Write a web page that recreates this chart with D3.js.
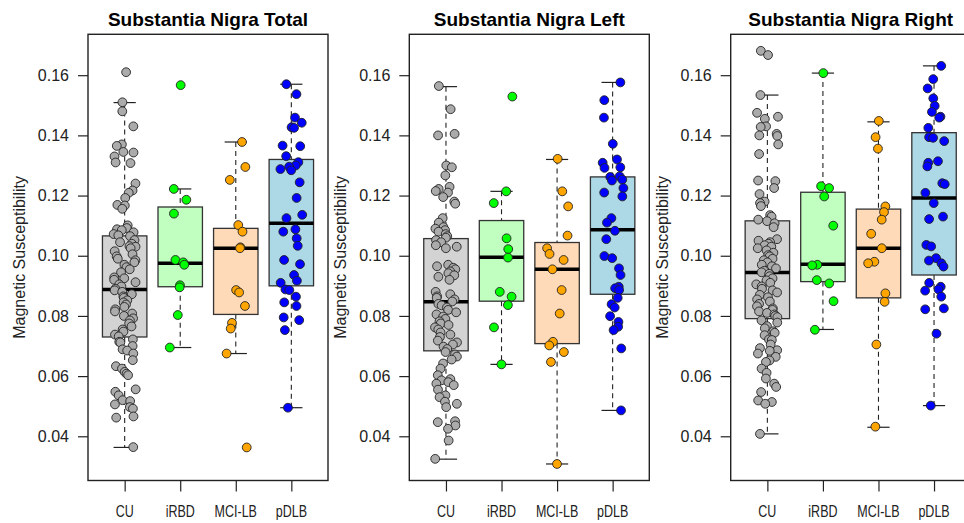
<!DOCTYPE html>
<html>
<head>
<meta charset="utf-8">
<script src="https://cdn.jsdelivr.net/npm/d3@7"></script>
<style>
  body { margin: 0; background: #fff; }
  svg { font-family: "Liberation Sans", Arial, sans-serif; }
</style>
</head>
<body>
<div id="chart"></div>
<script>
// Magnetic susceptibility of the substantia nigra by group, three panels (Total / Left / Right)

const groups = ["CU", "iRBD", "MCI-LB", "pDLB"];
const panelTitles = ["Substantia Nigra Total", "Substantia Nigra Left", "Substantia Nigra Right"];
const yTicks = [0.04, 0.06, 0.08, 0.10, 0.12, 0.14, 0.16];

// box stats per group: [lower whisker, Q1, median, Q3, upper whisker]
const totalStats = [
  [0.0363, 0.0730, 0.0888, 0.1066, 0.1509],
  [0.0695, 0.0897, 0.0975, 0.1162, 0.1222],
  [0.0675, 0.0805, 0.1025, 0.1091, 0.1378],
  [0.0495, 0.0900, 0.1108, 0.1320, 0.1570]
];
const leftStats = [
  [0.0324, 0.0684, 0.0847, 0.1057, 0.1562],
  [0.0639, 0.0849, 0.0995, 0.1117, 0.1214],
  [0.0308, 0.0708, 0.0955, 0.1044, 0.1320],
  [0.0486, 0.0872, 0.1086, 0.1262, 0.1576]
];
const rightStats = [
  [0.0408, 0.0791, 0.0944, 0.1116, 0.1534],
  [0.0755, 0.0914, 0.0972, 0.1211, 0.1607],
  [0.0430, 0.0860, 0.1025, 0.1155, 0.1445],
  [0.0502, 0.0936, 0.1192, 0.1409, 0.1631]
];

// individual subjects
const totalCU = [0.161, 0.151, 0.148, 0.143, 0.137, 0.1365, 0.1345, 0.1343, 0.133, 0.131, 0.1308, 0.124, 0.1217, 0.1209, 0.1192, 0.1169, 0.1167, 0.1156,
  0.1101, 0.1092, 0.1088, 0.1085, 0.1078, 0.1072, 0.1068, 0.1065, 0.1052, 0.1045, 0.1040, 0.1032, 0.1030, 0.1025, 0.1015, 0.1005,
  0.0998, 0.0990, 0.0985, 0.0978, 0.0970, 0.0962, 0.0955, 0.0945,
  0.0928, 0.0925, 0.0920, 0.0912, 0.0905, 0.0898, 0.0890, 0.0885, 0.0880, 0.0872, 0.0865, 0.0860, 0.0852, 0.0845, 0.0838, 0.0830,
  0.0822, 0.0815, 0.0808, 0.0800, 0.0792, 0.0785, 0.0775, 0.0765, 0.0755, 0.0748, 0.0738, 0.0732,
  0.0722, 0.0714, 0.0712, 0.0700, 0.0689, 0.0685, 0.0675, 0.0653, 0.0633, 0.0625, 0.0614, 0.0608, 0.0603, 0.0556, 0.0548, 0.0536,
  0.0520, 0.0517, 0.0506, 0.0497, 0.0492, 0.0466, 0.0462, 0.0364];
const totalIRBD = [0.1567, 0.1222, 0.1186, 0.1140, 0.0986, 0.0978, 0.0970, 0.0902, 0.0895, 0.0803, 0.0695];
const totalMCI = [0.1378, 0.1295, 0.1252, 0.1102, 0.1080, 0.1028, 0.1025, 0.0886, 0.0878, 0.0833, 0.0777, 0.0758, 0.0675, 0.0363];
const totalPDLB = [0.1570, 0.1537, 0.1459, 0.1442, 0.1427, 0.1425, 0.1366, 0.1364, 0.1331, 0.1311, 0.1300, 0.1296, 0.1288, 0.1284,
  0.1244, 0.1192, 0.1136, 0.1125, 0.1088, 0.1080, 0.1058, 0.1033, 0.0986, 0.0972, 0.0936, 0.0917, 0.0910, 0.0888, 0.0886, 0.0864,
  0.0845, 0.0833, 0.0795, 0.0786, 0.0753, 0.0495];

const leftCU = [0.1564, 0.1487, 0.1405, 0.1400, 0.1300, 0.1294, 0.1267, 0.1229, 0.1222, 0.1215, 0.1210, 0.1195, 0.1180, 0.1173, 0.1125, 0.1110,
  0.1095, 0.1090, 0.1085, 0.1080, 0.1072, 0.1065, 0.1060, 0.1052, 0.1045, 0.1035, 0.1030, 0.1025,
  0.0970, 0.0965, 0.0960, 0.0955, 0.0948, 0.0942, 0.0935, 0.0930, 0.0920,
  0.0880, 0.0872, 0.0865, 0.0860, 0.0855, 0.0848, 0.0840, 0.0835, 0.0828, 0.0820, 0.0812, 0.0805, 0.0798, 0.0790, 0.0782, 0.0775,
  0.0770, 0.0762, 0.0755, 0.0745, 0.0738, 0.0730, 0.0718, 0.0712, 0.0705, 0.0698, 0.0690,
  0.0680, 0.0672, 0.0665, 0.0655, 0.0642, 0.0625, 0.0603, 0.0590, 0.0586, 0.0580, 0.0575, 0.0570, 0.0555, 0.0536, 0.0530, 0.0515,
  0.0508, 0.0497, 0.0450, 0.0447, 0.0436, 0.0425, 0.0386, 0.0325];
const leftIRBD = [0.1529, 0.1214, 0.1175, 0.1058, 0.1022, 0.0994, 0.0880, 0.0864, 0.0836, 0.0762, 0.0639];
const leftMCI = [0.1322, 0.1214, 0.1164, 0.1067, 0.1025, 0.1006, 0.0986, 0.0955, 0.0886, 0.0808, 0.0714, 0.0702, 0.0680, 0.0647, 0.0308];
const leftPDLB = [0.1576, 0.1517, 0.1459, 0.1372, 0.1320, 0.1309, 0.1294, 0.1292, 0.1264, 0.1262, 0.1253, 0.1250, 0.1225, 0.1210,
  0.1197, 0.1125, 0.1110, 0.1083, 0.1055, 0.0999, 0.0992, 0.0958, 0.0936, 0.0897, 0.0892, 0.0886, 0.0860, 0.0839, 0.0828, 0.0799,
  0.0780, 0.0764, 0.0753, 0.0692, 0.0486];

const rightCU = [0.1681, 0.1667, 0.1534, 0.1475, 0.1462, 0.1455, 0.1430, 0.1428, 0.1405, 0.1400, 0.1398, 0.1370, 0.1338, 0.1250, 0.1248,
  0.1225, 0.1205, 0.1180, 0.1175, 0.1165, 0.1135, 0.1130, 0.1120, 0.1115, 0.1108, 0.1095,
  0.1055, 0.1050, 0.1045, 0.1040, 0.1035, 0.1030, 0.1025, 0.1018, 0.1010, 0.1002, 0.0998, 0.0990, 0.0985, 0.0978, 0.0970, 0.0965,
  0.0958, 0.0950, 0.0945, 0.0940, 0.0932, 0.0925, 0.0918, 0.0910, 0.0905, 0.0898, 0.0890, 0.0885, 0.0878, 0.0870, 0.0862, 0.0855,
  0.0848, 0.0840, 0.0832, 0.0825, 0.0820, 0.0815, 0.0810, 0.0805, 0.0800, 0.0796,
  0.0785, 0.0778, 0.0766, 0.0759, 0.0749, 0.0744, 0.0736, 0.0722, 0.0720, 0.0705, 0.0693, 0.0686, 0.0684, 0.0675, 0.0664, 0.0652,
  0.0647, 0.0625, 0.0611, 0.0592, 0.0575, 0.0564, 0.0547, 0.0519, 0.0514, 0.0508, 0.0408];
const rightIRBD = [0.1607, 0.1231, 0.1225, 0.1197, 0.1100, 0.0970, 0.0968, 0.0919, 0.0908, 0.0849, 0.0754];
const rightMCI = [0.1448, 0.1394, 0.1356, 0.1164, 0.1145, 0.1120, 0.1073, 0.1025, 0.0980, 0.0975, 0.0875, 0.0847, 0.0705, 0.0432];
const rightPDLB = [0.1631, 0.1587, 0.1556, 0.1523, 0.1498, 0.1478, 0.1462, 0.1459, 0.1425, 0.1394, 0.1392, 0.1381, 0.1314, 0.1309,
  0.1297, 0.1241, 0.1238, 0.1209, 0.1175, 0.1130, 0.1122, 0.1036, 0.1031, 0.0992, 0.0984, 0.0975, 0.0964, 0.0910, 0.0897, 0.0888,
  0.0884, 0.0864, 0.0825, 0.0822, 0.0741, 0.0502];

const panels = [
  { title: panelTitles[0], stats: totalStats, points: [totalCU, totalIRBD, totalMCI, totalPDLB] },
  { title: panelTitles[1], stats: leftStats, points: [leftCU, leftIRBD, leftMCI, leftPDLB] },
  { title: panelTitles[2], stats: rightStats, points: [rightCU, rightIRBD, rightMCI, rightPDLB] }
];

const boxFill = ["#d3d3d3", "#c1ffc1", "#ffdab9", "#add8e6"];
const pointFill = ["#ababab", "#00ff00", "#ffa500", "#0000ff"];

const width = 964, height = 523;
const plotW = 240, plotTop = 34.3, plotBottom = 480.5;
const panelLeft = [88, 409.3, 730.7];

const svg = d3.select("#chart").append("svg")
  .attr("width", width)
  .attr("height", height);

// shared y range, extended 4% like R does
const allVals = panels.flatMap(p => p.points.flat().concat(p.stats.flat()));
const [vmin, vmax] = d3.extent(allVals);
const pad = (vmax - vmin) * 0.04;
const y = d3.scaleLinear().domain([vmin - pad, vmax + pad]).range([plotBottom, plotTop]);

// small seeded generator for the horizontal jitter only
function rng(seed) {
  return function() {
    seed = (seed + 0x6D2B79F5) | 0;
    let t = Math.imul(seed ^ (seed >>> 15), 1 | seed);
    t = (t + Math.imul(t ^ (t >>> 7), 61 | t)) ^ t;
    return ((t ^ (t >>> 14)) >>> 0) / 4294967296;
  };
}

panels.forEach((p, pi) => {
  const g = svg.append("g").attr("transform", `translate(${panelLeft[pi]},0)`);

  const x = d3.scaleLinear().domain([0.34, 4.66]).range([0, plotW]);
  const unit = x(1) - x(0);
  const boxW = 0.8 * unit, capW = 0.4 * unit;

  // title
  g.append("text")
    .attr("x", plotW / 2)
    .attr("y", 26)
    .attr("text-anchor", "middle")
    .style("font-size", "19px")
    .style("font-weight", "bold")
    .text(p.title);

  // y axis
  const yAxis = g.append("g")
    .call(d3.axisLeft(y).tickValues(yTicks).tickFormat(d3.format(".2f")).tickSize(10).tickPadding(9));
  yAxis.select(".domain").remove();
  yAxis.selectAll("line").attr("stroke", "#222").attr("stroke-width", 1.2);
  yAxis.selectAll("text").style("font-size", "16px").attr("fill", "#222").attr("font-family", "Liberation Sans, Arial, sans-serif");

  g.append("text")
    .attr("transform", `translate(-63,${(plotTop + plotBottom) / 2}) rotate(-90)`)
    .attr("text-anchor", "middle")
    .style("font-size", "16px")
    .attr("fill", "#222")
    .text("Magnetic Susceptibility");

  // x axis
  const xAxis = g.append("g")
    .attr("transform", `translate(0,${plotBottom})`)
    .call(d3.axisBottom(x).tickValues([1, 2, 3, 4]).tickFormat("").tickSize(11));
  xAxis.select(".domain").remove();
  xAxis.selectAll("line").attr("stroke", "#222").attr("stroke-width", 1.2);

  g.selectAll(".xlab")
    .data(groups)
    .enter()
    .append("text")
      .attr("class", "xlab")
      .attr("transform", (d, i) => `translate(${x(i + 1)},517) scale(1,1.3)`)
      .attr("text-anchor", "middle")
      .style("font-size", "12.5px")
      .attr("fill", "#222")
      .text(d => d);

  // boxes
  const boxes = g.selectAll(".box")
    .data(p.stats)
    .enter()
    .append("g")
      .attr("class", "box");

  boxes.append("line")
    .attr("x1", (d, i) => x(i + 1)).attr("x2", (d, i) => x(i + 1))
    .attr("y1", d => y(d[4])).attr("y2", d => y(d[3]))
    .attr("stroke", "#222").attr("stroke-dasharray", "5,4").attr("stroke-width", 1.1);
  boxes.append("line")
    .attr("x1", (d, i) => x(i + 1)).attr("x2", (d, i) => x(i + 1))
    .attr("y1", d => y(d[1])).attr("y2", d => y(d[0]))
    .attr("stroke", "#222").attr("stroke-dasharray", "5,4").attr("stroke-width", 1.1);
  [0, 4].forEach(k => {
    boxes.append("line")
      .attr("x1", (d, i) => x(i + 1) - capW / 2).attr("x2", (d, i) => x(i + 1) + capW / 2)
      .attr("y1", d => y(d[k])).attr("y2", d => y(d[k]))
      .attr("stroke", "#222").attr("stroke-width", 1.2);
  });
  boxes.append("rect")
    .attr("x", (d, i) => x(i + 1) - boxW / 2)
    .attr("width", boxW)
    .attr("y", d => y(d[3]))
    .attr("height", d => y(d[1]) - y(d[3]))
    .attr("fill", (d, i) => boxFill[i])
    .attr("stroke", "#333").attr("stroke-width", 1.3);
  boxes.append("line")
    .attr("x1", (d, i) => x(i + 1) - boxW / 2).attr("x2", (d, i) => x(i + 1) + boxW / 2)
    .attr("y1", d => y(d[2])).attr("y2", d => y(d[2]))
    .attr("stroke", "#000").attr("stroke-width", 3.5);

  // jittered subject points
  p.points.forEach((vals, gi) => {
    const r = rng(1000 * (pi + 1) + 37 * (gi + 1));
    g.selectAll(`.pt${gi}`)
      .data(vals.map(v => ({ v, j: (r() * 2 - 1) * 0.2 })))
      .enter()
      .append("circle")
        .attr("class", `pt${gi}`)
        .attr("cx", d => x(gi + 1 + d.j))
        .attr("cy", d => y(d.v))
        .attr("r", 4.4)
        .attr("fill", pointFill[gi])
        .attr("stroke", "#222")
        .attr("stroke-width", 0.9);
  });

  // plot frame
  g.append("rect")
    .attr("x", 0).attr("y", plotTop)
    .attr("width", plotW).attr("height", plotBottom - plotTop)
    .attr("fill", "none")
    .attr("stroke", "#222").attr("stroke-width", 1.4);
});
</script>
</body>
</html>
